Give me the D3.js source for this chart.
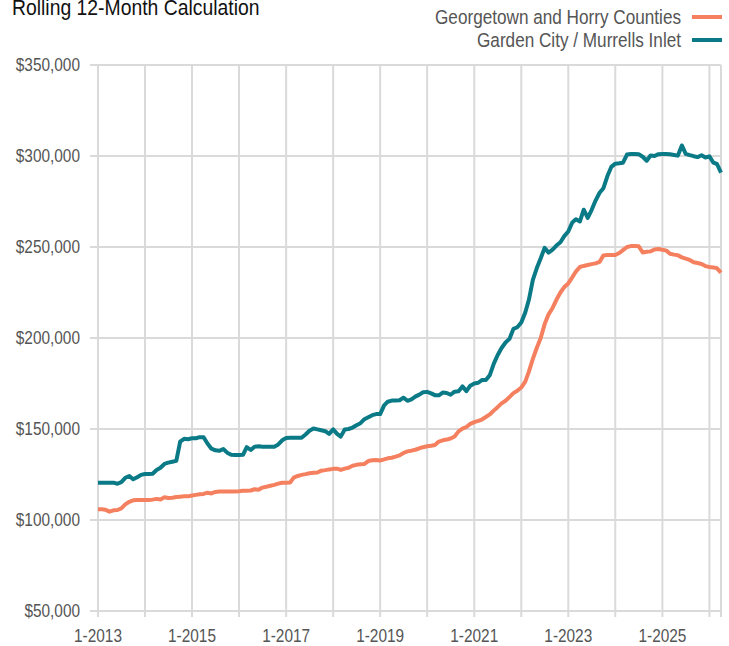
<!DOCTYPE html>
<html>
<head>
<meta charset="utf-8">
<script src="https://cdn.jsdelivr.net/npm/d3@7"></script>
<style>
  body { margin: 0; background: #fff; }
  svg { display: block; font-family: "Liberation Sans", Arial, sans-serif; }
</style>
</head>
<body>
<svg width="729" height="646"></svg>
<script>
// monthly, 1-2013 .. 4-2026, rolling 12 month median sales price
var startMonth = "2013-01";
var seriesNames = ["Georgetown and Horry Counties", "Garden City / Murrells Inlet"];
var seriesColors = ["#f5805f", "#0b7a87"];

var horry = [
  105900,105900,105600,104600,105300,105500,106400,108600,110000,110800,111000,111000,
  111000,111000,111200,111600,111300,112500,112100,112200,112600,112800,113000,113000,
  113500,113800,114100,114300,115000,114600,115400,115600,115600,115600,115600,115700,
  115800,116100,116100,116200,116900,116600,117800,118300,118800,119300,120000,120500,
  120500,120600,123300,124200,124800,125200,125700,125900,126100,127100,127400,127800,
  128100,128200,127500,128200,128700,129800,130300,130600,130800,132400,132800,133000,
  132700,133300,133900,134200,134800,135500,136800,137700,138100,138600,139400,140000,
  140500,140800,141200,143100,143800,144200,144800,145900,148700,150200,151100,152800,
  153800,154500,155200,156600,158000,160100,162000,164100,165500,167500,169700,171000,
  172800,176000,181500,188500,194500,200000,207500,213000,216500,221000,225000,228000,
  230000,233300,236500,239000,239600,240100,240600,241000,241800,245400,245600,245600,
  245600,246700,248300,250000,250500,250500,250400,247000,247400,247600,248600,248900,
  248500,248000,246300,245800,245500,244300,243600,242900,241600,241200,240700,239500,
  239000,238800,238300,235900
];

var gardenCity = [
  120500,120500,120500,120500,120500,119900,120800,123200,124200,122400,123500,124800,
  125300,125300,125400,127500,128700,130800,131500,132000,132500,143000,144600,144400,
  144900,144900,145500,145500,142000,139200,138300,138000,139000,137000,135800,135700,
  135700,135800,140000,138500,140300,140500,140300,140300,140300,140300,141500,143800,
  145000,145200,145200,145200,145200,147000,149000,150300,149800,149300,148800,147300,
  149800,147300,145800,149700,150000,150800,152100,153200,155400,156500,157600,158200,
  158200,163000,165000,165600,165600,165800,167200,165500,166300,167800,168900,170200,
  170400,169600,168600,168500,170000,169800,168800,170500,170800,173400,170800,173800,
  175000,175400,176900,176900,179500,185800,190500,194500,197500,199500,205000,205900,
  208500,214000,221000,231900,238300,243800,249500,246900,248500,250800,252600,256000,
  258500,263500,265200,264000,270500,266000,270300,275500,279800,282300,289000,294000,
  295800,296000,296300,300800,301100,301100,301000,299600,297400,300300,300000,301000,
  301100,301100,301000,300600,300200,305800,301200,300500,299900,299400,300400,299200,
  299800,296300,295600,290900
];

var yTicks = [50000, 100000, 150000, 200000, 250000, 300000, 350000];
var xLabelYears = [2013, 2015, 2017, 2019, 2021, 2023, 2025];
var gridYears = [2013,2014,2015,2016,2017,2018,2019,2020,2021,2022,2023,2024,2025,2026];

var parseMonth = d3.timeParse("%Y-%m");
var start = parseMonth(startMonth);
var dates = horry.map(function(d, i) { return d3.timeMonth.offset(start, i); });

var svg = d3.select("svg");
var margin = {left: 98, right: 8, top: 65, bottom: 35};
var width = 729 - margin.left - margin.right;
var height = 646 - margin.top - margin.bottom;

var x = d3.scaleTime()
  .domain([dates[0], dates[dates.length - 1]])
  .range([0, width]);
var y = d3.scaleLinear()
  .domain([50000, 350000])
  .range([height, 0]);

var g = svg.append("g")
  .attr("transform", "translate(" + margin.left + "," + margin.top + ")");

var grid = "#dadada";
var squeeze = 0.88; // the original font is a condensed one

// text squeezed sideways around its anchor point
function addText(parent, tx, ty, str, size, anchor, color) {
  return parent.append("text")
    .attr("transform", "translate(" + tx + "," + ty + ") scale(" + squeeze + ",1)")
    .attr("text-anchor", anchor)
    .attr("fill", color)
    .attr("font-size", size)
    .text(str);
}

// horizontal grid + little ticks on the left
g.selectAll(".hgrid")
  .data(yTicks)
  .enter()
  .append("line")
  .attr("x1", -8)
  .attr("x2", width)
  .attr("y1", function(d) { return y(d); })
  .attr("y2", function(d) { return y(d); })
  .attr("stroke", grid)
  .attr("stroke-width", 2);

// vertical grid, runs a bit below the axis
g.selectAll(".vgrid")
  .data(gridYears.map(function(yr) { return new Date(yr, 0, 1); }).concat([dates[dates.length - 1]]))
  .enter()
  .append("line")
  .attr("x1", function(d) { return x(d); })
  .attr("x2", function(d) { return x(d); })
  .attr("y1", 0)
  .attr("y2", height + 6)
  .attr("stroke", grid)
  .attr("stroke-width", 2);

var fmt = d3.format("$,");
yTicks.forEach(function(d) {
  addText(g, -18, y(d) + 6, fmt(d), 17.5, "end", "#555");
});

xLabelYears.forEach(function(d) {
  addText(g, x(new Date(d, 0, 1)), height + 31, "1-" + d, 17.5, "middle", "#555");
});

var line = d3.line()
  .x(function(d, i) { return x(dates[i]); })
  .y(function(d) { return y(d); });

[horry, gardenCity].forEach(function(s, k) {
  g.append("path")
    .datum(s)
    .attr("fill", "none")
    .attr("stroke", seriesColors[k])
    .attr("stroke-width", 4)
    .attr("stroke-linejoin", "round")
    .attr("d", line);
});

// title, sits partly off the top like the original
addText(svg, 12, 15, "Rolling 12-Month Calculation", 22, "start", "#111");

// legend top right
seriesNames.forEach(function(name, k) {
  var ly = 17 + k * 23;
  addText(svg, 681, ly + 7, name, 19.5, "end", "#555");
  svg.append("line")
    .attr("x1", 692)
    .attr("x2", 722)
    .attr("y1", ly)
    .attr("y2", ly)
    .attr("stroke", seriesColors[k])
    .attr("stroke-width", 4);
});
</script>
</body>
</html>
